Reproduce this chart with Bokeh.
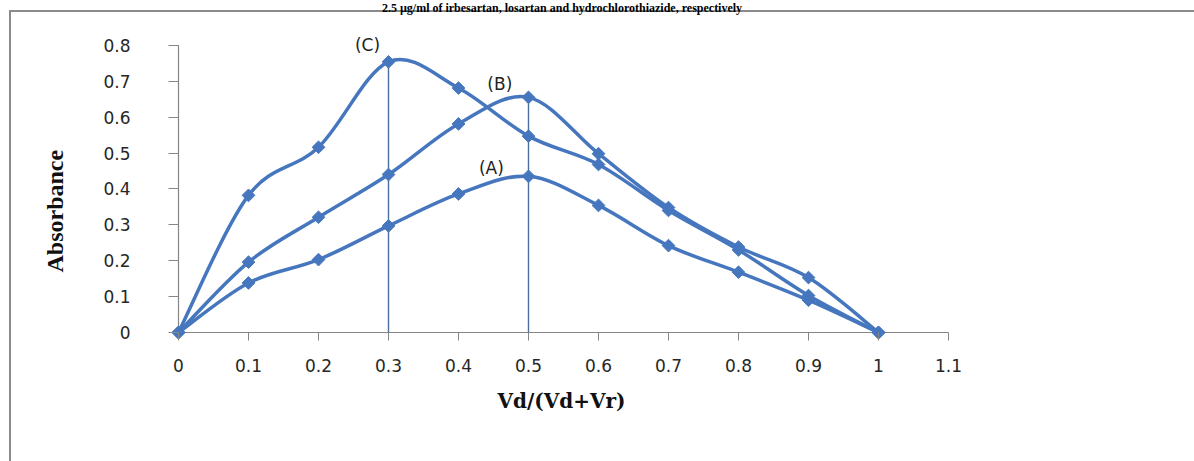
import numpy as np
from bokeh.plotting import figure
from bokeh.models import Range1d, PrintfTickFormatter, Label, Title
from bokeh.embed import file_html
from bokeh.resources import INLINE

# Job's continuous-variation data: absorbance against mole fraction Vd/(Vd+Vr)
fraction = [0.0, 0.1, 0.2, 0.3, 0.4, 0.5, 0.6, 0.7, 0.8, 0.9, 1.0]
absorbance_a = [0.0, 0.138, 0.203, 0.297, 0.386, 0.435, 0.354, 0.242, 0.168, 0.090, 0.0]
absorbance_b = [0.0, 0.196, 0.321, 0.440, 0.581, 0.655, 0.498, 0.348, 0.238, 0.153, 0.0]
absorbance_c = [0.0, 0.382, 0.516, 0.754, 0.681, 0.547, 0.468, 0.340, 0.230, 0.103, 0.0]

x_ticks = [0.0, 0.1, 0.2, 0.3, 0.4, 0.5, 0.6, 0.7, 0.8, 0.9, 1.0, 1.1]
y_ticks = [0.0, 0.1, 0.2, 0.3, 0.4, 0.5, 0.6, 0.7, 0.8]

title_text = "2.5 µg/ml of irbesartan, losartan and hydrochlorothiazide, respectively"
x_title = "Vd/(Vd+Vr)"
y_title = "Absorbance"

SERIES_COLOR = "#4677be"
AXIS_COLOR = "#868686"
TEXT_COLOR = "#262626"
BOX_COLOR = "#8a8a8a"

# pixel scale of the plotting area
PX_X = 700.0   # pixels per unit of x
PX_Y = 359.0   # pixels per unit of y
TICK_X = 10    # y-axis tick length (drawn from frame edge to x=0)
TICK_Y = 8     # x-axis tick length (drawn from frame edge to y=0)

x_range = Range1d(-TICK_X / PX_X, 776 / PX_X)
y_range = Range1d(-TICK_Y / PX_Y, 332 / PX_Y)

p = figure(width=1194, height=461, frame_width=786, frame_height=340,
           min_border_left=168, min_border_right=240,
           min_border_top=0, min_border_bottom=121,
           x_range=x_range, y_range=y_range,
           output_backend="svg", toolbar_location=None, tools="")
p.outline_line_color = None
p.grid.visible = False
# transparent canvas; the page element paints white plus the chart box edges
p.background_fill_color = None
p.border_fill_color = None
p.styles = {
    "background-color": "white",
    "background-image": f"linear-gradient({BOX_COLOR}, {BOX_COLOR}), "
                        f"linear-gradient({BOX_COLOR}, {BOX_COLOR})",
    "background-repeat": "no-repeat",
    "background-size": "2px 451px, 1185px 2px",
    "background-position": "9px 10px, 9px 10px",
}

fmt = PrintfTickFormatter(format="%.3g")

# x axis: ticks run from the frame edge up to y = 0
p.xaxis.ticker = x_ticks
p.xaxis.formatter = fmt
p.xaxis.axis_line_color = None
p.xaxis.major_tick_in = TICK_Y
p.xaxis.major_tick_out = 0
p.xaxis.major_tick_line_color = AXIS_COLOR
p.xaxis.minor_tick_line_color = None
p.xaxis.major_label_standoff = 18
p.xaxis.major_label_text_font = "DejaVu Sans"
p.xaxis.major_label_text_font_size = "17px"
p.xaxis.major_label_text_color = TEXT_COLOR
p.xaxis.axis_label = x_title
p.xaxis.axis_label_text_font = "DejaVu Serif"
p.xaxis.axis_label_text_font_style = "bold"
p.xaxis.axis_label_text_font_size = "20px"
p.xaxis.axis_label_text_color = "#111111"
p.xaxis.axis_label_standoff = 14

# y axis: ticks run from the frame edge to x = 0
p.yaxis.ticker = y_ticks
p.yaxis.formatter = fmt
p.yaxis.axis_line_color = None
p.yaxis.major_tick_in = TICK_X
p.yaxis.major_tick_out = 0
p.yaxis.major_tick_line_color = AXIS_COLOR
p.yaxis.minor_tick_line_color = None
p.yaxis.major_label_standoff = 38
p.yaxis.major_label_text_font = "DejaVu Sans"
p.yaxis.major_label_text_font_size = "17px"
p.yaxis.major_label_text_color = TEXT_COLOR

# vertical axis title, set in the left panel beyond the tick labels
p.add_layout(Title(text=y_title, align="left", vertical_align="bottom",
                   offset=68, standoff=66,
                   text_font="Liberation Serif", text_font_style="bold",
                   text_font_size="24px", text_color="#111111"), "left")

# axis lines through the origin
p.segment(x0=[x_ticks[0], x_ticks[0]], y0=[y_ticks[0], y_ticks[0]],
          x1=[x_ticks[-1], x_ticks[0]], y1=[y_ticks[0], y_ticks[-1]],
          line_color=AXIS_COLOR, line_width=1.2)

# drop lines at the maxima of (C) and (B)
i_c = int(np.argmax(absorbance_c))
i_b = int(np.argmax(absorbance_b))
p.segment(x0=[fraction[i_c], fraction[i_b]], y0=[0, 0],
          x1=[fraction[i_c], fraction[i_b]], y1=[absorbance_c[i_c], absorbance_b[i_b]],
          line_color="#4a6e9e", line_width=1.4)


def smooth_segments(xs, ys):
    """Cubic Bezier pieces (Catmull-Rom tangents) through every point."""
    xs = np.asarray(xs, float)
    ys = np.asarray(ys, float)
    n = len(xs)
    px = np.concatenate([[xs[0]], xs, [xs[-1]]])
    py = np.concatenate([[ys[0]], ys, [ys[-1]]])
    out = dict(x0=[], y0=[], x1=[], y1=[], cx0=[], cy0=[], cx1=[], cy1=[])
    for i in range(n - 1):
        p0x, p1x, p2x, p3x = px[i], px[i + 1], px[i + 2], px[i + 3]
        p0y, p1y, p2y, p3y = py[i], py[i + 1], py[i + 2], py[i + 3]
        out["x0"].append(p1x); out["y0"].append(p1y)
        out["x1"].append(p2x); out["y1"].append(p2y)
        out["cx0"].append(p1x + (p2x - p0x) / 6.0)
        out["cy0"].append(p1y + (p2y - p0y) / 6.0)
        out["cx1"].append(p2x - (p3x - p1x) / 6.0)
        out["cy1"].append(p2y - (p3y - p1y) / 6.0)
    return out


for series in (absorbance_a, absorbance_b, absorbance_c):
    seg = smooth_segments(fraction, series)
    p.bezier(line_color=SERIES_COLOR, line_width=3.5, **seg)

for series in (absorbance_a, absorbance_b, absorbance_c):
    p.scatter(fraction, series, marker="square", size=9, angle=np.pi / 4,
              fill_color=SERIES_COLOR, line_color=SERIES_COLOR)

# curve labels
label_style = dict(text_font="DejaVu Sans", text_font_size="17px",
                   text_color="#222222", text_align="center",
                   text_baseline="middle")
p.add_layout(Label(x=0.27, y=0.80, text="(C)", **label_style))
p.add_layout(Label(x=0.459, y=0.691, text="(B)", **label_style))
p.add_layout(Label(x=0.447, y=0.457, text="(A)", **label_style))

# caption line above the chart box
p.add_layout(Label(x=383.5 / PX_X, y=331.5 / PX_Y, text=title_text,
                   text_font="Liberation Serif", text_font_style="bold",
                   text_font_size="12px", text_color="#000000",
                   text_align="center", text_baseline="top"))

open("out.html", "w").write(file_html(p, INLINE))
